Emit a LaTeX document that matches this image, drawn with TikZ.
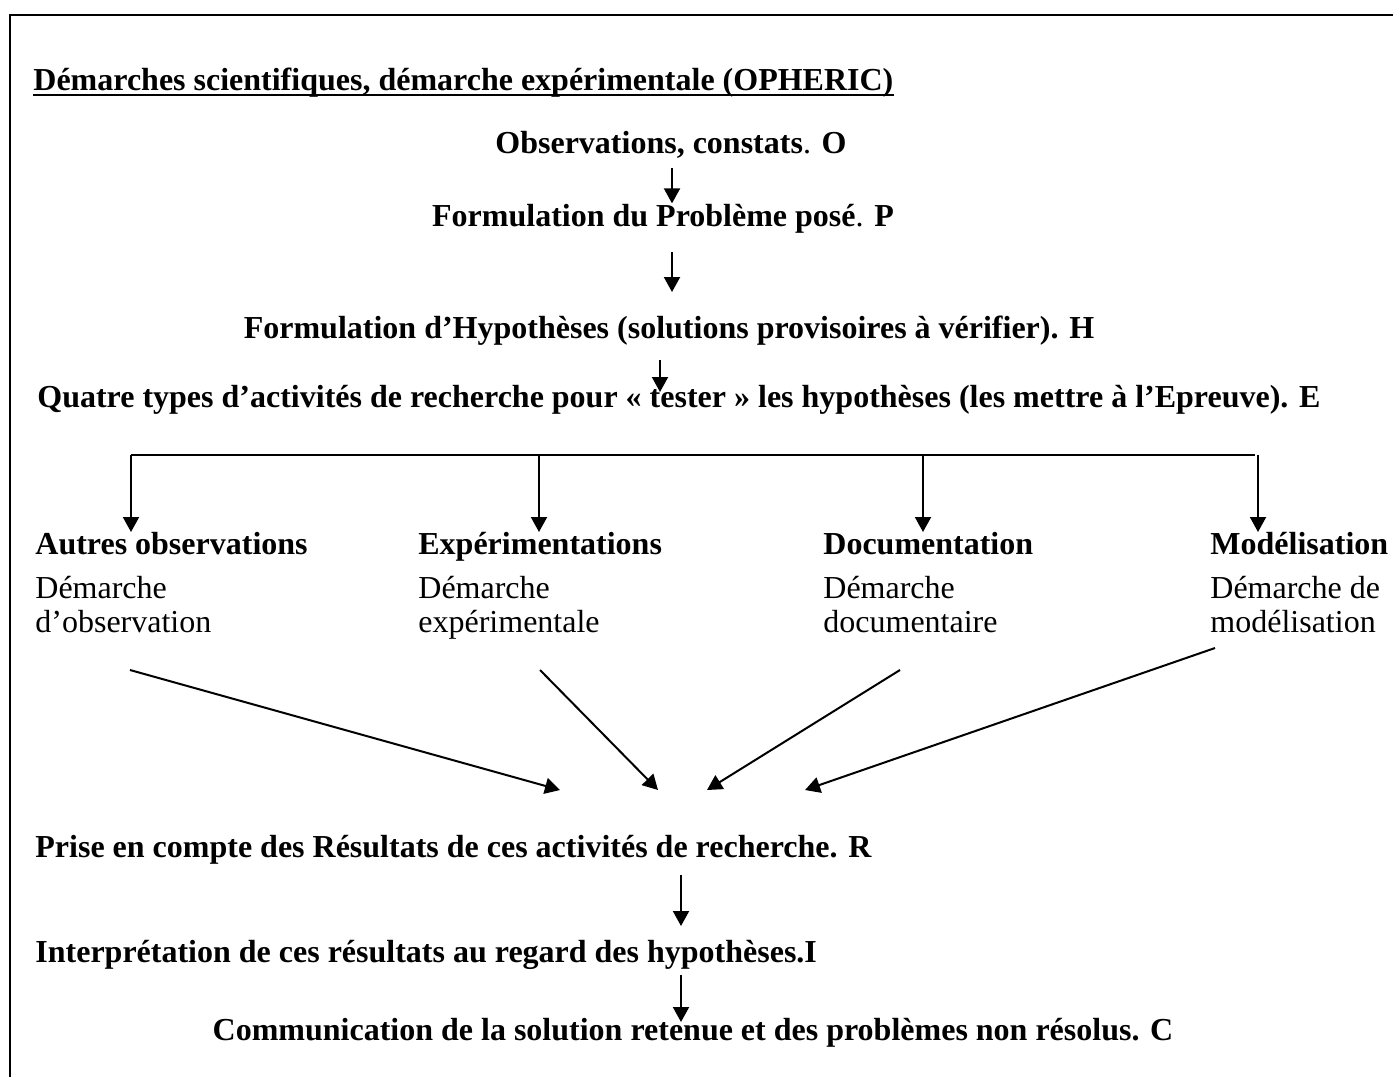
\documentclass[tikz,border=0pt]{standalone}
\usepackage{fontspec}
\setmainfont{Liberation Serif}
\usetikzlibrary{arrows.meta,positioning}

\begin{document}
\begin{tikzpicture}[
  x=0.5pt, y=-0.5pt,
  every node/.style={inner sep=0pt, font=\fontsize{16}{17}\selectfont},
  etape/.style={font=\fontsize{16}{17}\selectfont\bfseries},
  branche/.style={anchor=north west, align=left},
  arr/.style={-{Triangle[length=7.5pt,width=8pt]}, line width=1pt},
  cadre/.style={line width=1.2pt}
]
\useasboundingbox (0,0) rectangle (1393,1077);
\draw[cadre] (10,1077) -- (10,15) -- (1393,15);

% titre et premieres etapes
\node[etape, anchor=base west] (titre) at (33,90)
  {Démarches scientifiques, démarche expérimentale (OPHERIC)};
\draw[line width=1.4pt] ([yshift=-2.5pt]titre.base west) -- ([yshift=-2.5pt]titre.base east);
\node[anchor=base] (obs) at (671,153) {\textbf{Observations, constats}. \textbf{O}};
\node[anchor=base] (pb) at (663,226) {\textbf{Formulation du Problème posé}. \textbf{P}};
\node[etape, anchor=base] (hyp) at (669,338)
  {Formulation d’Hypothèses (solutions provisoires à vérifier). H};
\node[etape, anchor=base west] (quatre) at (37,407)
  {Quatre types d’activités de recherche pour « tester » les hypothèses (les mettre à l’Epreuve). E};

% les quatre activites
\node[branche] (autres) at (35,532) {\textbf{Autres observations}\\[5pt]Démarche\\d’observation};
\node[branche] (exper) at (418,532) {\textbf{Expérimentations}\\[5pt]Démarche\\expérimentale};
\node[branche] (docu) at (823,532) {\textbf{Documentation}\\[5pt]Démarche\\documentaire};
\node[branche] (model) at (1210,532) {\textbf{Modélisation}\\[5pt]Démarche de\\modélisation};

% suite
\node[etape, anchor=base west] (res) at (35,857)
  {Prise en compte des Résultats de ces activités de recherche. R};
\node[etape, anchor=base west] (interp) at (35,962)
  {Interprétation de ces résultats au regard des hypothèses.I};
\node[etape, anchor=base] (comm) at (693,1040)
  {Communication de la solution retenue et des problèmes non résolus. C};

\coordinate (a1) at (672,168);
\coordinate (a2) at (672,252);
\coordinate (a2b) at (672,292);
\coordinate (a3) at (660,360);
\coordinate (a3b) at (660,392);
\coordinate (bus1) at (131,455);
\coordinate (bus2) at (539,455);
\coordinate (bus3) at (923,455);
\coordinate (bus4) at (1258,455);
\coordinate (d1) at (130,670);
\coordinate (d2) at (540,670);
\coordinate (d3) at (900,670);
\coordinate (d4) at (1215,648);
\coordinate (r1) at (560,790);
\coordinate (r2) at (658,790);
\coordinate (r3) at (707,790);
\coordinate (r4) at (805,790);
\coordinate (a4) at (681,875);
\coordinate (a4b) at (681,926);
\coordinate (a5) at (681,975);
\coordinate (a5b) at (681,1022);

\draw[arr] (a1) -- (a1 |- pb.north);
\draw[arr] (a2) -- (a2b);
\draw[arr] (a3) -- (a3b);
\draw[line width=1pt] (bus1) -- (1255,455);
\draw[arr] (bus1) -- (bus1 |- autres.north);
\draw[arr] (bus2) -- (bus2 |- exper.north);
\draw[arr] (bus3) -- (bus3 |- docu.north);
\draw[arr] (bus4) -- (bus4 |- model.north);
\draw[arr] (d1) -- (r1);
\draw[arr] (d2) -- (r2);
\draw[arr] (d3) -- (r3);
\draw[arr] (d4) -- (r4);
\draw[arr] (a4) -- (a4b);
\draw[arr] (a5) -- (a5b);
\end{tikzpicture}
\end{document}
